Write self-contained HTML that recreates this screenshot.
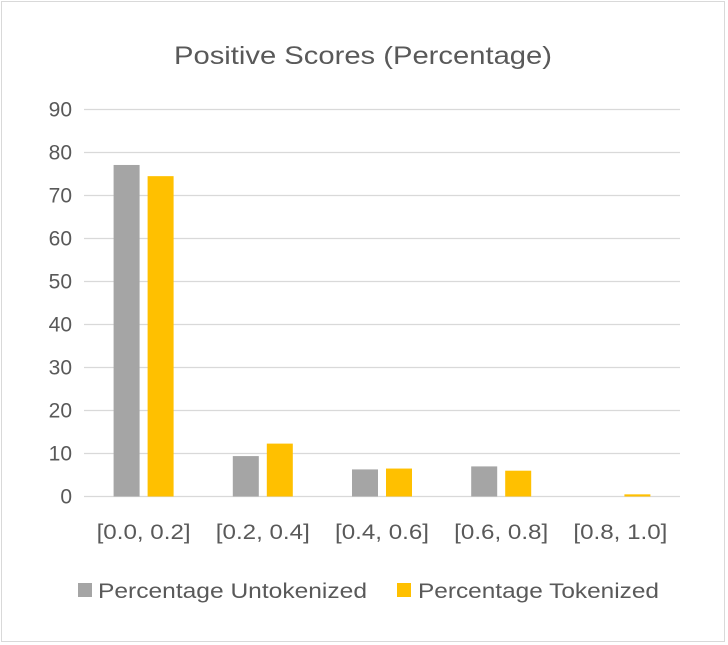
<!DOCTYPE html>
<html><head><meta charset="utf-8"><style>
body{margin:0;background:#fff;font-family:"Liberation Sans",sans-serif;}
#frame{position:absolute;left:1px;top:1px;width:724px;height:641px;border:1px solid #d9d9d9;box-sizing:border-box;}
</style></head><body>
<div id="frame"></div>
<svg id="chart" width="728" height="645" style="position:absolute;left:0;top:0">
<text x="363" y="64" text-anchor="middle" font-size="25" fill="#595959" textLength="378" lengthAdjust="spacingAndGlyphs">Positive Scores (Percentage)</text>
<g id="grid"></g><g id="bars"></g><g id="labels"></g>
<g>
<rect x="78" y="583" width="14" height="14" fill="#a5a5a5"/>
<text x="98" y="598" font-size="21" fill="#595959" textLength="269" lengthAdjust="spacingAndGlyphs">Percentage Untokenized</text>
<rect x="397" y="583" width="14" height="14" fill="#ffc000"/>
<text x="418" y="598" font-size="21" fill="#595959" textLength="241" lengthAdjust="spacingAndGlyphs">Percentage Tokenized</text>
</g>
</svg>
<script>
const categories=["[0.0, 0.2]","[0.2, 0.4]","[0.4, 0.6]","[0.6, 0.8]","[0.8, 1.0]"];
const untokenized=[77.1,9.4,6.3,7.0,0];
const tokenized=[74.5,12.3,6.5,6.0,0.5];
const yTicks=[0,10,20,30,40,50,60,70,80,90];
const NS="http://www.w3.org/2000/svg";
const x0=84,x1=680,yBase=496.5,yTop=109.5,yMax=90;
const y=v=>yBase-(yBase-yTop)*v/yMax;
const band=(x1-x0)/categories.length;
const cx=i=>x0+band*(i+0.5);
function mk(t,a,p){const e=document.createElementNS(NS,t);for(const k in a)e.setAttribute(k,a[k]);document.getElementById(p).appendChild(e);return e;}
yTicks.forEach(v=>{
 const l=mk('line',{x1:x0,x2:x1,y1:y(v),y2:y(v),stroke:'#d9d9d9','stroke-width':1.3},'grid');
 
 
 const t=mk('text',{x:72,y:y(v)+7,'text-anchor':'end','font-size':21,fill:'#595959'},'labels');
 t.textContent=v;
 
 
});
categories.forEach((c,i)=>{
 const g=mk('rect',{x:cx(i)-30,y:y(untokenized[i]),width:26,height:yBase-y(untokenized[i]),fill:'#a5a5a5'},'bars');
 
 
 const b=mk('rect',{x:cx(i)+4,y:y(tokenized[i]),width:26,height:yBase-y(tokenized[i]),fill:'#ffc000'},'bars');
 
 
 const t=mk('text',{x:cx(i),y:539,'text-anchor':'middle','font-size':21,fill:'#595959',textLength:94,lengthAdjust:'spacingAndGlyphs'},'labels');
 t.textContent=c;
 
 
});
</script>
</body></html>
